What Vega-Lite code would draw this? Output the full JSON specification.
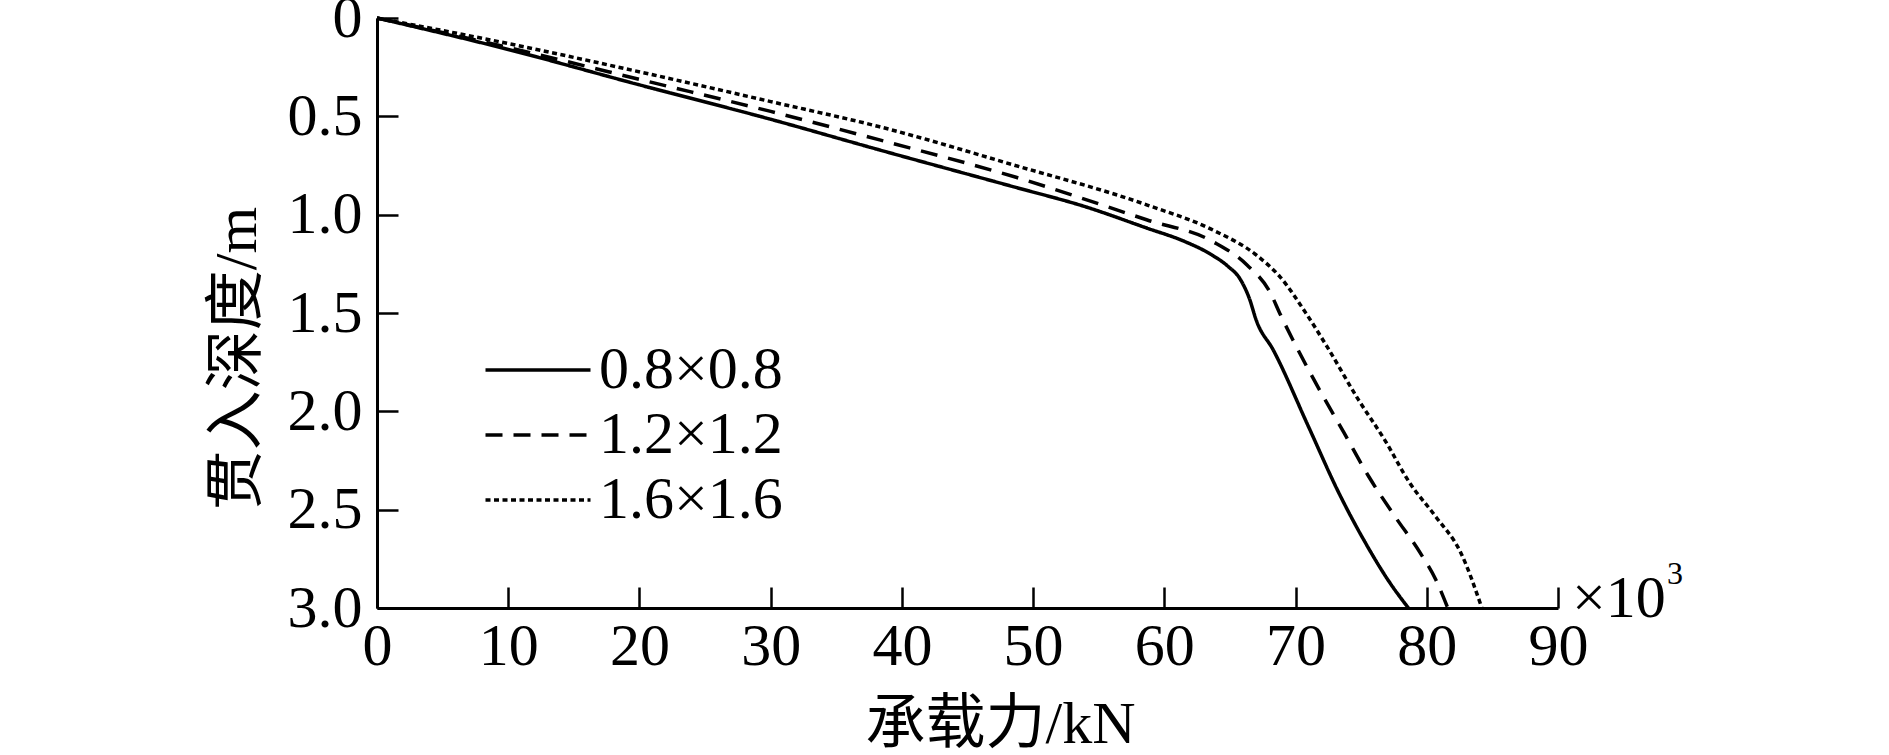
{
  "$schema": "https://vega.github.io/schema/vega-lite/v6.json",
  "autosize": "none",
  "width": 1181,
  "height": 590,
  "padding": {"left": 377, "top": 18, "right": 331, "bottom": 147},
  "background": "white",
  "config": {
    "view": {"stroke": null},
    "font": "Liberation Serif",
    "axis": {
      "domainColor": "black", "domainWidth": 3, "tickColor": "black", "tickWidth": 2.5,
      "tickSize": -21, "grid": false, "labelColor": "black", "titleColor": "black",
      "labelFont": "Liberation Serif", "labelFontSize": 60, "titleFont": "Liberation Serif, Noto Sans CJK SC",
      "titleFontSize": 60, "titleFontWeight": "normal"
    },
    "legend": {
      "labelFont": "Liberation Serif", "labelFontSize": 60, "labelColor": "black", "labelLimit": 0
    }
  },
  "layer": [
    {
      "data": {
        "values": [
          {"s": "0.8×0.8", "x": 0, "y": 0},
          {"s": "0.8×0.8", "x": 10, "y": 0.16},
          {"s": "0.8×0.8", "x": 20, "y": 0.34},
          {"s": "0.8×0.8", "x": 30, "y": 0.515},
          {"s": "0.8×0.8", "x": 38.3, "y": 0.671},
          {"s": "0.8×0.8", "x": 48.5, "y": 0.858},
          {"s": "0.8×0.8", "x": 54, "y": 0.96},
          {"s": "0.8×0.8", "x": 58.7, "y": 1.069},
          {"s": "0.8×0.8", "x": 61.5, "y": 1.135},
          {"s": "0.8×0.8", "x": 63.5, "y": 1.2},
          {"s": "0.8×0.8", "x": 64.8, "y": 1.26},
          {"s": "0.8×0.8", "x": 65.8, "y": 1.33},
          {"s": "0.8×0.8", "x": 66.5, "y": 1.43},
          {"s": "0.8×0.8", "x": 67.0, "y": 1.536},
          {"s": "0.8×0.8", "x": 68.3, "y": 1.688},
          {"s": "0.8×0.8", "x": 71.0, "y": 2.08},
          {"s": "0.8×0.8", "x": 73.3, "y": 2.415},
          {"s": "0.8×0.8", "x": 75.2, "y": 2.654},
          {"s": "0.8×0.8", "x": 77.2, "y": 2.873},
          {"s": "0.8×0.8", "x": 78.6, "y": 3.0},
          {"s": "1.2×1.2", "x": 0, "y": 0},
          {"s": "1.2×1.2", "x": 10, "y": 0.15},
          {"s": "1.2×1.2", "x": 21.1, "y": 0.33},
          {"s": "1.2×1.2", "x": 30, "y": 0.475},
          {"s": "1.2×1.2", "x": 38.3, "y": 0.62},
          {"s": "1.2×1.2", "x": 48.7, "y": 0.81},
          {"s": "1.2×1.2", "x": 58.7, "y": 1.027},
          {"s": "1.2×1.2", "x": 63.7, "y": 1.137},
          {"s": "1.2×1.2", "x": 66.3, "y": 1.256},
          {"s": "1.2×1.2", "x": 68.1, "y": 1.4},
          {"s": "1.2×1.2", "x": 68.8, "y": 1.502},
          {"s": "1.2×1.2", "x": 69.8, "y": 1.637},
          {"s": "1.2×1.2", "x": 71.7, "y": 1.876},
          {"s": "1.2×1.2", "x": 73.7, "y": 2.11},
          {"s": "1.2×1.2", "x": 75.6, "y": 2.334},
          {"s": "1.2×1.2", "x": 77.6, "y": 2.537},
          {"s": "1.2×1.2", "x": 79.5, "y": 2.72},
          {"s": "1.2×1.2", "x": 80.7, "y": 2.858},
          {"s": "1.2×1.2", "x": 81.6, "y": 3.0},
          {"s": "1.6×1.6", "x": 0, "y": 0},
          {"s": "1.6×1.6", "x": 10, "y": 0.13},
          {"s": "1.6×1.6", "x": 21.1, "y": 0.29},
          {"s": "1.6×1.6", "x": 30, "y": 0.425},
          {"s": "1.6×1.6", "x": 38.3, "y": 0.553},
          {"s": "1.6×1.6", "x": 48.5, "y": 0.747},
          {"s": "1.6×1.6", "x": 58.7, "y": 0.951},
          {"s": "1.6×1.6", "x": 63.7, "y": 1.078},
          {"s": "1.6×1.6", "x": 67.0, "y": 1.205},
          {"s": "1.6×1.6", "x": 68.8, "y": 1.315},
          {"s": "1.6×1.6", "x": 70.8, "y": 1.502},
          {"s": "1.6×1.6", "x": 72.4, "y": 1.671},
          {"s": "1.6×1.6", "x": 74.8, "y": 1.942},
          {"s": "1.6×1.6", "x": 76.8, "y": 2.146},
          {"s": "1.6×1.6", "x": 78.7, "y": 2.364},
          {"s": "1.6×1.6", "x": 80.7, "y": 2.537},
          {"s": "1.6×1.6", "x": 82.6, "y": 2.72},
          {"s": "1.6×1.6", "x": 84.2, "y": 3.0}
        ]
      },
      "mark": {"type": "line", "color": "black", "strokeWidth": 3.5, "clip": false, "interpolate": "monotone"},
      "encoding": {
        "x": {
          "field": "x", "type": "quantitative",
          "scale": {"domain": [0, 90], "nice": false, "zero": false},
          "axis": {
            "orient": "bottom", "values": [0, 10, 20, 30, 40, 50, 60, 70, 80, 90],
            "labelPadding": 30, "labelFlush": false, "labelOverlap": false,
            "title": "承载力/kN", "titleX": 623, "titleY": 134, "titleBaseline": "alphabetic", "titleAlign": "center"
          }
        },
        "y": {
          "field": "y", "type": "quantitative",
          "scale": {"domain": [0, 3], "reverse": true, "nice": false, "zero": false},
          "axis": {
            "orient": "left", "values": [0, 0.5, 1, 1.5, 2, 2.5, 3],
            "labelExpr": "datum.value == 0 ? '0' : format(datum.value, '.1f')",
            "labelPadding": 36, "labelFlush": false, "labelOverlap": false,
            "title": "贯入深度/m", "titleX": -122, "titleY": 340, "titleAngle": -90,
            "titleBaseline": "alphabetic", "titleAlign": "center"
          }
        },
        "strokeDash": {
          "field": "s", "type": "nominal",
          "scale": {"domain": ["0.8×0.8", "1.2×1.2", "1.6×1.6"], "range": [[1, 0], [17, 11], [5, 3.5]]},
          "legend": {
            "title": null, "orient": "none", "legendX": 131, "legendY": 322,
            "symbolType": "M-3,0H3", "symbolSize": 1225, "symbolStrokeWidth": 3.5,
            "symbolStrokeColor": "black", "symbolFillColor": "transparent",
            "labelOffset": 31, "rowPadding": 5, "padding": 0
          }
        },
        "order": {"field": "y", "type": "quantitative"}
      }
    },
    {
      "data": {"values": [{"x": 90, "y": 3, "t": "×10"}]},
      "mark": {"type": "text", "align": "left", "baseline": "alphabetic", "dx": 14, "dy": 9, "fontSize": 60, "font": "Liberation Serif", "color": "black"},
      "encoding": {
        "x": {"field": "x", "type": "quantitative"},
        "y": {"field": "y", "type": "quantitative"},
        "text": {"field": "t"}
      }
    },
    {
      "data": {"values": [{"x": 90, "y": 3, "t": "3"}]},
      "mark": {"type": "text", "align": "left", "baseline": "alphabetic", "dx": 109, "dy": -24, "fontSize": 32, "font": "Liberation Serif", "color": "black"},
      "encoding": {
        "x": {"field": "x", "type": "quantitative"},
        "y": {"field": "y", "type": "quantitative"},
        "text": {"field": "t"}
      }
    }
  ]
}
